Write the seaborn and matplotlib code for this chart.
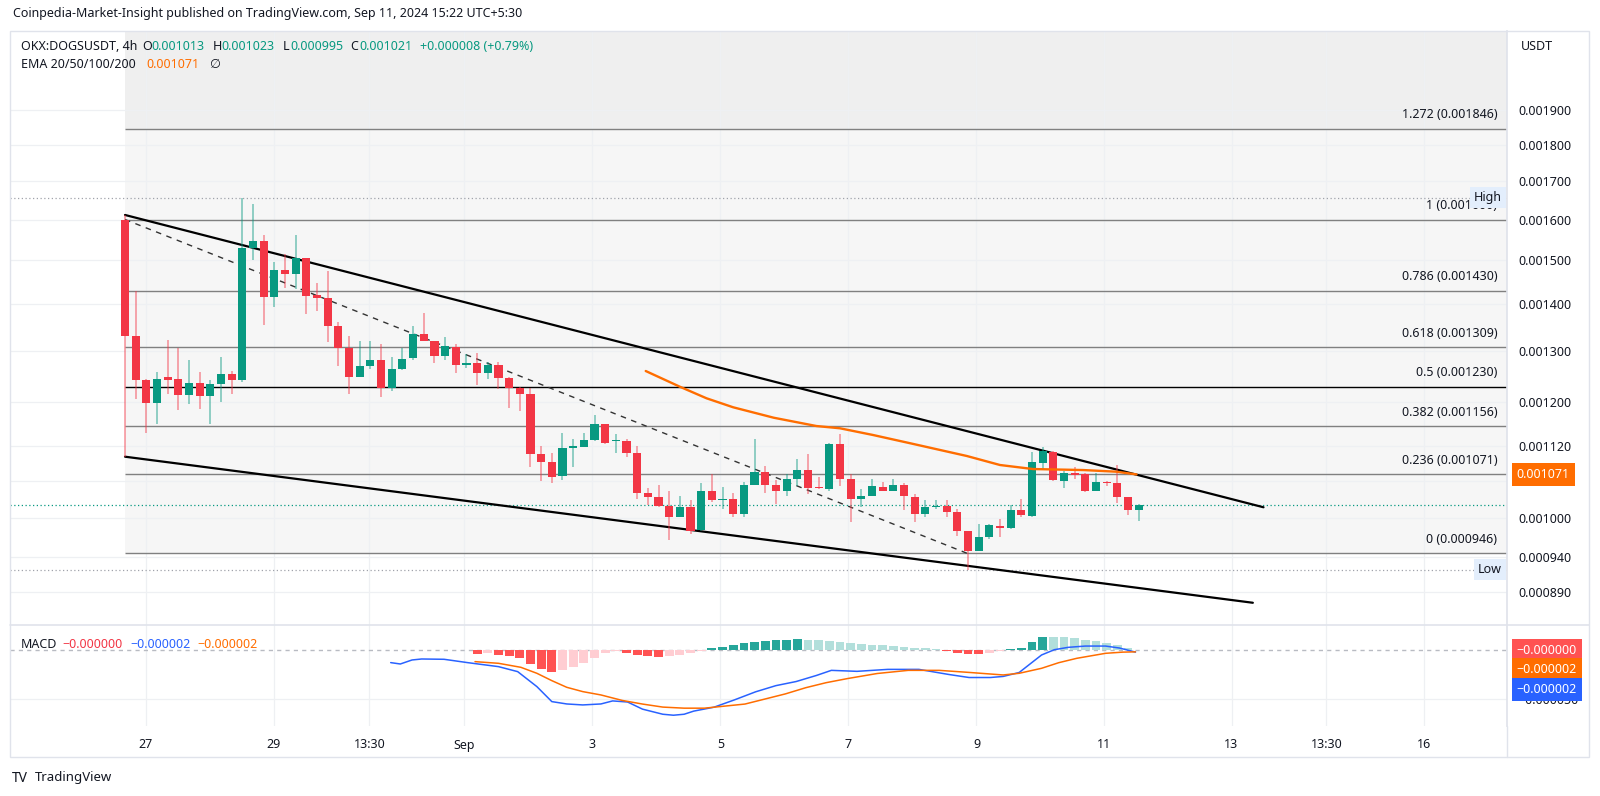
import numpy as np
import seaborn as sns
import matplotlib.pyplot as plt
from matplotlib.lines import Line2D
from matplotlib.patches import Rectangle
from matplotlib.ticker import NullLocator

# ---- 4h candles (index 0 = first candle on screen) ----
opens = [0.001600, 0.001332, 0.001243, 0.001198, 0.001248, 0.001244, 0.001214, 0.001237, 0.001212, 0.001235,
         0.001255, 0.001243, 0.001531, 0.001547, 0.001417, 0.001478, 0.001468, 0.001505, 0.001421, 0.001413,
         0.001352, 0.001307, 0.001248, 0.001270, 0.001283, 0.001228, 0.001264, 0.001286, 0.001336, 0.001321,
         0.001290, 0.001310, 0.001273, 0.001277, 0.001256, 0.001272, 0.001247, 0.001228, 0.001215, 0.001106,
         0.001093, 0.001069, 0.001117, 0.001118, 0.001131, 0.001159, 0.001128, 0.001129, 0.001107, 0.001040,
         0.001034, 0.001019, 0.001002, 0.001017, 0.000981, 0.001044, 0.001029, 0.001030, 0.001007, 0.001053,
         0.001075, 0.001053, 0.001043, 0.001064, 0.001078, 0.001049, 0.001046, 0.001123, 0.001063, 0.001030,
         0.001035, 0.001050, 0.001044, 0.001053, 0.001034, 0.001007, 0.001017, 0.001019, 0.001010, 0.000979,
         0.000950, 0.000970, 0.000988, 0.000984, 0.001012, 0.001003, 0.001091, 0.001110, 0.001060, 0.001073,
         0.001071, 0.001044, 0.001059, 0.001056, 0.001034, 0.001013]
highs = [0.001612, 0.001430, 0.001244, 0.001258, 0.001323, 0.001307, 0.001283, 0.001258, 0.001242, 0.001288,
         0.001260, 0.001656, 0.001640, 0.001562, 0.001496, 0.001515, 0.001562, 0.001506, 0.001447, 0.001475,
         0.001362, 0.001332, 0.001321, 0.001321, 0.001315, 0.001288, 0.001307, 0.001354, 0.001380, 0.001322,
         0.001329, 0.001315, 0.001294, 0.001296, 0.001279, 0.001279, 0.001249, 0.001230, 0.001228, 0.001120,
         0.001107, 0.001144, 0.001133, 0.001144, 0.001176, 0.001160, 0.001141, 0.001132, 0.001120, 0.001048,
         0.001053, 0.001043, 0.001035, 0.001029, 0.001057, 0.001071, 0.001050, 0.001040, 0.001059, 0.001133,
         0.001085, 0.001061, 0.001071, 0.001097, 0.001106, 0.001067, 0.001126, 0.001141, 0.001071, 0.001046,
         0.001063, 0.001059, 0.001064, 0.001057, 0.001038, 0.001028, 0.001029, 0.001028, 0.001014, 0.000980,
         0.000991, 0.000990, 0.000998, 0.001020, 0.001030, 0.001109, 0.001119, 0.001111, 0.001076, 0.001084,
         0.001073, 0.001073, 0.001060, 0.001087, 0.001034, 0.001023]
lows = [0.001101, 0.001206, 0.001144, 0.001160, 0.001215, 0.001185, 0.001197, 0.001187, 0.001159, 0.001200,
        0.001215, 0.001239, 0.001502, 0.001355, 0.001395, 0.001437, 0.001434, 0.001379, 0.001385, 0.001319,
        0.001270, 0.001215, 0.001248, 0.001264, 0.001210, 0.001222, 0.001263, 0.001283, 0.001321, 0.001277,
        0.001283, 0.001256, 0.001266, 0.001233, 0.001245, 0.001225, 0.001190, 0.001184, 0.001083, 0.001060,
        0.001056, 0.001062, 0.001083, 0.001118, 0.001128, 0.001124, 0.001107, 0.001101, 0.001030, 0.001021,
        0.001017, 0.000966, 0.001002, 0.000975, 0.000980, 0.001026, 0.001015, 0.001002, 0.001002, 0.001053,
        0.001040, 0.001022, 0.001035, 0.001052, 0.001038, 0.001047, 0.001044, 0.001052, 0.000993, 0.001017,
        0.001035, 0.001043, 0.001043, 0.001012, 0.000993, 0.001002, 0.001015, 0.001002, 0.000972, 0.000922,
        0.000949, 0.000968, 0.000970, 0.000983, 0.001002, 0.001002, 0.001081, 0.001060, 0.001048, 0.001063,
        0.001041, 0.001043, 0.001051, 0.001024, 0.001004, 0.000995]
closes = [0.001332, 0.001243, 0.001198, 0.001244, 0.001243, 0.001214, 0.001237, 0.001212, 0.001235, 0.001255,
          0.001243, 0.001531, 0.001547, 0.001417, 0.001478, 0.001468, 0.001505, 0.001419, 0.001413, 0.001352,
          0.001306, 0.001248, 0.001270, 0.001283, 0.001228, 0.001264, 0.001285, 0.001337, 0.001322, 0.001291,
          0.001312, 0.001273, 0.001276, 0.001256, 0.001272, 0.001247, 0.001228, 0.001215, 0.001106, 0.001093,
          0.001067, 0.001117, 0.001119, 0.001131, 0.001159, 0.001126, 0.001129, 0.001107, 0.001040, 0.001034,
          0.001019, 0.001002, 0.001017, 0.000980, 0.001044, 0.001029, 0.001030, 0.001007, 0.001053, 0.001075,
          0.001053, 0.001044, 0.001063, 0.001078, 0.001049, 0.001048, 0.001123, 0.001064, 0.001030, 0.001035,
          0.001051, 0.001044, 0.001053, 0.001036, 0.001006, 0.001017, 0.001019, 0.001010, 0.000979, 0.000950,
          0.000970, 0.000989, 0.000984, 0.001012, 0.001004, 0.001092, 0.001111, 0.001061, 0.001073, 0.001070,
          0.001044, 0.001059, 0.001056, 0.001034, 0.001013, 0.001021]

# EMA line
ema_idx = [48.8, 52.0, 54.5, 57.0, 60.8, 64.8, 67.0, 70.1, 73.6, 78.9, 82.0, 85.1, 89.8, 92.9, 94.8]
ema_vals = [0.0012604, 0.0012296, 0.0012074, 0.0011904, 0.0011710, 0.0011558, 0.0011517, 0.0011396,
            0.0011248, 0.0011025, 0.0010870, 0.0010801, 0.0010784, 0.0010756, 0.0010710]

# MACD pane, values in millionths
macd_idx = [24.9, 25.8, 26.9, 27.8, 29.9, 32.1, 35.0, 36.8, 38.6, 40.0, 41.4, 42.9, 44.6, 45.7, 47.1, 48.5,
            50.4, 51.4, 52.4, 53.3, 55.2, 57.1, 59.1, 61.0, 62.9, 64.8, 66.2, 68.6, 71.5, 74.4, 77.2, 79.1,
            81.1, 82.3, 83.8, 84.9, 85.9, 87.1, 88.4, 90.0, 91.9, 93.2, 94.7]
macd_vals = [-12.9, -14.3, -10.2, -9.2, -9.5, -12.9, -17.0, -22.1, -37.4, -52.7, -55.1, -56.1, -55.1, -52.0,
             -53.1, -60.4, -65.6, -66.6, -65.6, -62.4, -58.4, -51.0, -42.7, -36.4, -32.2, -26.0, -20.8, -21.8,
             -19.8, -19.8, -25.0, -28.1, -28.1, -27.0, -23.0, -13.6, -5.1, 0.3, 2.7, 4.0, 4.0, 2.0, -2.2]
signal_idx = [32.8, 35.0, 37.1, 38.6, 40.0, 41.4, 42.9, 44.6, 46.6, 48.5, 50.4, 52.4, 54.3, 56.2, 58.1, 60.0,
              61.9, 63.8, 65.7, 67.7, 70.5, 73.4, 76.3, 79.1, 82.3, 83.8, 85.9, 87.5, 89.2, 91.9, 93.5, 94.7]
signal_vals = [-11.9, -13.6, -17.7, -23.8, -31.3, -38.1, -42.5, -45.9, -51.5, -55.2, -58.3, -59.4, -59.4,
               -57.3, -55.2, -50.0, -44.8, -38.5, -33.4, -29.2, -24.0, -20.8, -20.8, -22.9, -25.5, -23.8,
               -18.7, -13.0, -8.5, -3.4, -2.2, -1.9]
hist_idx = list(range(33, 96))
hist_vals = [-3.8, -2.7, -5.1, -6.1, -7.9, -14.6, -19.7, -22.1, -20.7, -17.0, -13.0, -7.9, -3.0, -1.5, -3.0,
             -5.5, -6.5, -7.0, -6.5, -5.0, -3.0, -1.0, 2.1, 3.1, 5.2, 7.3, 8.3, 9.4, 9.9, 10.4, 10.9, 10.4,
             9.9, 9.4, 8.3, 7.3, 6.2, 5.2, 4.7, 4.2, 3.1, 2.1, 1.6, 1.0, -1.2, -2.6, -4.0, -4.5, -3.2, -0.6,
             1.3, 2.0, 8.5, 13.6, 13.5, 13.4, 12.2, 10.2, 8.9, 7.5, 4.8, 2.0, -0.3]

# drawings
fib_levels = [1.272, 1, 0.786, 0.618, 0.5, 0.382, 0.236, 0]
fib_prices = [0.001846, 0.001600, 0.001430, 0.001309, 0.001230, 0.001156, 0.001071, 0.000946]
swing_high = 0.001656
swing_low = 0.000922
upper_idx, upper_vals = [0, 106.7], [0.0016115, 0.001017]
lower_idx, lower_vals = [0, 105.7], [0.0011013, 0.000875]
diag_idx, diag_vals = [0, 78.9], [0.001600, 0.000946]

price_ticks = [0.00089, 0.00094, 0.00100, 0.00106, 0.00112, 0.00120, 0.00130,
               0.00140, 0.00150, 0.00160, 0.00170, 0.00180, 0.00190]
time_ticks = [1.96, 13.92, 22.91, 31.8, 43.74, 55.8, 67.76, 79.8, 91.75, 103.7, 112.6, 121.7]
time_labels = ['27', '29', '13:30', 'Sep', '3', '5', '7', '9', '11', '13', '13:30', '16']

UP, DOWN = '#089981', '#F23645'
TXT, GRID, BORDER = '#131722', '#eef0f3', '#e0e3eb'
ORANGE, BLUE = '#FF6D00', '#2962FF'

sns.set_theme(style='white')
plt.rcParams['font.family'] = ['Noto Sans', 'DejaVu Sans']
plt.rcParams['axes.unicode_minus'] = True

W, H = 1600, 796
fig = plt.figure(figsize=(16, 7.96), dpi=100)
fig.patch.set_facecolor('white')


def fx(px):
    return px / W


def fy(py):
    return 1 - py / H


def fmt(v):
    return f'{v:.6f}'.replace('-', '\u2212')


ax = fig.add_axes([fx(10), fy(625), fx(1507) - fx(10), fy(31) - fy(625)])
axm = fig.add_axes([fx(10), fy(726), fx(1507) - fx(10), fy(625) - fy(726)], sharex=ax)
XMIN, XMAX = -10.78, 129.52
ax.set_xlim(XMIN, XMAX)
ax.set_yscale('log')
ax.set_ylim(0.0008449, 0.002153)

# grid
for p in price_ticks:
    ax.axhline(p, color=GRID, lw=0.9, zorder=0.5)
for t in time_ticks:
    ax.axvline(t, color=GRID, lw=0.9, zorder=0.5)
    axm.axvline(t, color=GRID, lw=0.9, zorder=0.5)

# fib retracement
ax.fill_between([0, XMAX], min(fib_prices), max(fib_prices), color='#f6f6f6', lw=0, zorder=0.2)
ax.fill_between([0, XMAX], max(fib_prices), 0.0025, color='#efefef', lw=0, zorder=0.2)
for lvl, p in zip(fib_levels, fib_prices):
    ax.hlines(p, 0, XMAX, color='#000000' if lvl == 0.5 else '#808080', lw=1.0, zorder=2)
    ax.annotate(f'{lvl:g} ({p:.6f})', xy=(1, p), xycoords=('axes fraction', 'data'),
                xytext=(-7, 10), textcoords='offset points', ha='right', va='center',
                fontsize=9, color=TXT, zorder=3)

# high / low / last price dotted lines
ax.axhline(swing_high, color='#a0a3ab', lw=0.9, ls=(0, (1, 2)), zorder=1.5)
ax.axhline(swing_low, color='#a0a3ab', lw=0.9, ls=(0, (1, 2)), zorder=1.5)
ax.axhline(closes[-1], color=UP, lw=0.9, ls=(0, (1, 2)), zorder=1.5)
for p, s in [(swing_high, 'High'), (swing_low, 'Low')]:
    ax.annotate(s, xy=(1, p), xycoords=('axes fraction', 'data'), xytext=(-3.5, 0),
                textcoords='offset points', ha='right', va='center', fontsize=9, color=TXT,
                bbox=dict(boxstyle='square,pad=0.3', fc='#e3eefc', ec='none'), zorder=9)

# trend channel
ax.plot(upper_idx, upper_vals, color='#000000', lw=1.6, zorder=4, solid_capstyle='round')
ax.plot(lower_idx, lower_vals, color='#000000', lw=1.6, zorder=4, solid_capstyle='round')
ax.plot(diag_idx, diag_vals, color='#333333', lw=1.0, ls=(0, (4, 4)), zorder=4)

# candles
idx = np.arange(len(opens))
o, h, l, c = (np.array(a) for a in (opens, highs, lows, closes))
up = c >= o
cols = np.where(up, UP, DOWN)
ax.vlines(idx, l, h, colors=cols, lw=1.1, alpha=0.55, zorder=5)
bottoms = np.minimum(o, c)
heights = np.maximum(np.abs(c - o), bottoms * 0.002)
ax.bar(idx, heights, bottom=bottoms, width=0.76, color=cols, lw=0, zorder=6)

# EMA
sns.lineplot(x=ema_idx, y=ema_vals, ax=ax, color=ORANGE, lw=1.7, sort=False, estimator=None, zorder=7)

# price axis
ax.yaxis.tick_right()
ax.yaxis.set_minor_locator(NullLocator())
ax.set_yticks(price_ticks)
ax.set_yticklabels([f'{p:.6f}' for p in price_ticks])
ax.tick_params(axis='y', length=0, pad=8, labelsize=9, labelcolor=TXT)
ax.tick_params(axis='x', bottom=False, labelbottom=False)
ax.set_xlabel('')
ax.set_ylabel('')
for s in ['top', 'left', 'bottom']:
    ax.spines[s].set_visible(False)
ax.spines['right'].set_color(BORDER)
ax.annotate(fmt(ema_vals[-1]), xy=(1, ema_vals[-1]), xycoords=('axes fraction', 'data'),
            xytext=(7, 0), textcoords='offset points', ha='left', va='center', fontsize=9,
            color='white', annotation_clip=False, zorder=10,
            bbox=dict(boxstyle='square,pad=0.4', fc=ORANGE, ec='none'))

# MACD pane
hv = np.array(hist_vals)
prev = np.concatenate([[0], hv[:-1]])
hcols = np.where(hv >= 0, np.where(hv > prev, '#26A69A', '#B2DFDB'),
                 np.where(hv < prev, '#FF5252', '#FFCDD2'))
axm.set_ylim(-77.6e-6, 25.5e-6)
axm.axhline(-50e-6, color=GRID, lw=0.9, zorder=0.5)
axm.axhline(0, color='#b8bbc2', lw=1.0, ls=(0, (3, 3)), zorder=1)
axm.bar(hist_idx, hv * 1e-6, width=0.82, color=hcols, lw=0, zorder=2)
sns.lineplot(x=macd_idx, y=np.array(macd_vals) * 1e-6, ax=axm, color=BLUE, lw=1.1,
             sort=False, estimator=None, zorder=3)
sns.lineplot(x=signal_idx, y=np.array(signal_vals) * 1e-6, ax=axm, color=ORANGE, lw=1.1,
             sort=False, estimator=None, zorder=3)
axm.yaxis.tick_right()
axm.set_yticks([-50e-6])
axm.set_yticklabels([fmt(-50e-6)])
axm.tick_params(axis='y', length=0, pad=8, labelsize=9, labelcolor=TXT)
axm.set_xticks(time_ticks)
axm.set_xticklabels(time_labels)
axm.tick_params(axis='x', length=0, pad=9, labelsize=9, labelcolor=TXT)
axm.get_xticklabels()[3].set_fontweight('bold')
axm.set_xlabel('')
axm.set_ylabel('')
for s in ['top', 'left', 'bottom']:
    axm.spines[s].set_visible(False)
axm.spines['right'].set_color(BORDER)
for k, (v, col) in enumerate([(hist_vals[-1], '#FF5252'), (signal_vals[-1], ORANGE), (macd_vals[-1], BLUE)]):
    axm.annotate(fmt(v * 1e-6), xy=(1, hist_vals[-1] * 1e-6), xycoords=('axes fraction', 'data'),
                 xytext=(7, -14 * k), textcoords='offset points', ha='left', va='center', fontsize=9,
                 color='white', annotation_clip=False, zorder=10,
                 bbox=dict(boxstyle='square,pad=0.4', fc=col, ec='none'))

# frame and pane separators
fig.add_artist(Rectangle((fx(10), fy(757)), fx(1589) - fx(10), fy(31) - fy(757), transform=fig.transFigure,
                         fill=False, ec=BORDER, lw=1))
fig.add_artist(Line2D([fx(10), fx(1589)], [fy(625), fy(625)], transform=fig.transFigure, color=BORDER, lw=1.2))
fig.add_artist(Line2D([fx(1507), fx(1507)], [fy(726), fy(757)], transform=fig.transFigure, color=BORDER, lw=1))
fig.text(fx(1521), fy(46), 'USDT', fontsize=9, color=TXT, va='center')

# header texts
fig.text(fx(13), fy(14), 'Coinpedia-Market-Insight published on TradingView.com, Sep 11, 2024 15:22 UTC+5:30',
         fontsize=9, color=TXT, va='center')
chg = closes[-1] - closes[-2]
row1 = [(21, 'OKX:DOGSUSDT, 4h', TXT), (141.8, 'O', TXT), (151.3, f'{opens[-1]:.6f}', UP),
        (212.6, 'H', TXT), (221, f'{highs[-1]:.6f}', UP), (282.8, 'L', TXT), (290, f'{lows[-1]:.6f}', UP),
        (350.6, 'C', TXT), (359, f'{closes[-1]:.6f}', UP),
        (419.5, f'{chg:+.6f} ({chg / closes[-2] * 100:+.2f}%)', UP)]
for x, s, col in row1:
    fig.text(fx(x), fy(47), s, fontsize=9, color=col, va='center')
for x, s, col in [(21, 'EMA 20/50/100/200', TXT), (146.7, f'{ema_vals[-1]:.6f}', ORANGE), (208.8, '\u2205', TXT)]:
    fig.text(fx(x), fy(65), s, fontsize=9, color=col, va='center')
for x, s, col in [(21, 'MACD', TXT), (62, fmt(hist_vals[-1] * 1e-6), '#F23645'),
                  (130, fmt(macd_vals[-1] * 1e-6), BLUE), (197, fmt(signal_vals[-1] * 1e-6), ORANGE)]:
    fig.text(fx(x), fy(644), s, fontsize=9, color=col, va='center')

# footer
fig.text(fx(12), fy(778), 'TV', fontsize=10, fontweight='heavy', color=TXT, va='center')
fig.text(fx(35), fy(778), 'TradingView', fontsize=9.5, color=TXT, va='center')

fig.savefig('out.png', dpi=100)
